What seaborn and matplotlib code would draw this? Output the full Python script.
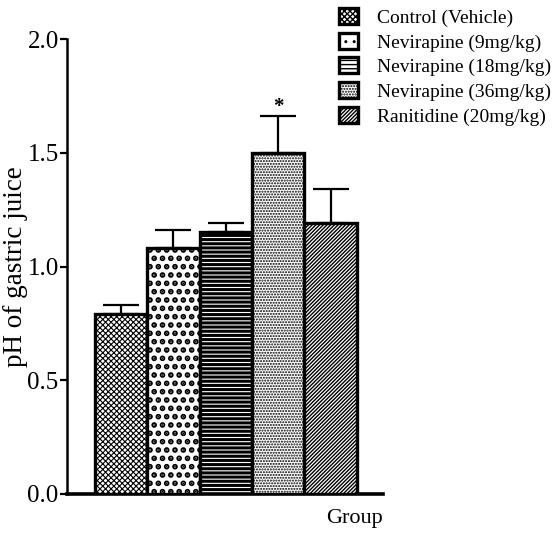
import matplotlib
matplotlib.use("Agg")
import matplotlib.pyplot as plt
import seaborn as sns
import pandas as pd
import numpy as np

# Gastric juice pH per treatment group (mean and SEM)
groups = ["Control (Vehicle)", "Nevirapine (9mg/kg)", "Nevirapine (18mg/kg)",
          "Nevirapine (36mg/kg)", "Ranitidine (20mg/kg)"]
ph_mean = [0.79, 1.08, 1.15, 1.50, 1.19]
ph_sem = [0.04, 0.08, 0.04, 0.16, 0.15]
significant = [False, False, False, True, False]
y_ticks = [0.0, 0.5, 1.0, 1.5, 2.0]

sns.set_theme(style="ticks")
plt.rcParams["font.family"] = ["Liberation Serif", "DejaVu Serif"]
plt.rcParams["hatch.linewidth"] = 1.0

df = pd.DataFrame({"group": groups, "ph": ph_mean})

fig = plt.figure(figsize=(5.55, 5.37), dpi=100)
ax = fig.add_axes([67 / 555, 43 / 537, 316 / 555, 455 / 537])

sns.barplot(data=df, x="group", y="ph", order=groups, width=1.0,
            color="white", edgecolor="black", linewidth=2.4,
            errorbar=None, ax=ax, zorder=3)

hatches = ["xxxxxx", "..", "----", "......", "/////////"]
hatch_lw = [0.8, 2.8, 2.2, 1.0, 1.0]
bars = list(ax.patches)[: len(groups)]
for bar, h, lw in zip(bars, hatches, hatch_lw):
    bar.set_hatch(h)
    bar.set_facecolor("white")
    bar.set_edgecolor("black")
    if hasattr(bar, "set_hatch_linewidth"):
        bar.set_hatch_linewidth(lw)

# upward-only SEM whiskers, drawn behind the bars
xc = [b.get_x() + b.get_width() / 2 for b in bars]
tops = [b.get_height() for b in bars]
ax.errorbar(xc, tops, yerr=[np.zeros(len(ph_sem)), ph_sem], fmt="none",
            ecolor="black", elinewidth=1.6, capsize=13, capthick=1.6, zorder=1)

for x, top, err, sig in zip(xc, tops, ph_sem, significant):
    if sig:
        ax.text(x, top + err - 0.005, "*", ha="center", va="bottom",
                fontsize=15, fontweight="bold", color="black")

ax.set_xlim(-1.03, 5.0)
ax.set_ylim(0, 2.0)
ax.set_yticks(y_ticks)
ax.set_yticklabels([f"{v:.1f}" for v in y_ticks], fontsize=18)
ax.set_xticks([])
ax.tick_params(axis="y", direction="out", length=5, width=1.6, pad=1, colors="black")

for side in ("top", "right"):
    ax.spines[side].set_visible(False)
ax.spines["left"].set_linewidth(1.8)
ax.spines["bottom"].set_linewidth(2.6)
ax.spines["left"].set_color("black")
ax.spines["bottom"].set_color("black")

ax.set_ylabel("pH of gastric juice", fontsize=19.5, color="black")
ax.yaxis.set_label_coords(-0.125, 0.5)
ax.set_xlabel("")
fig.text(383 / 555, 1 - 518 / 537, "Group", ha="right", va="center",
         fontsize=16, color="black")

leg = ax.legend(handles=bars, labels=groups, loc="upper left",
                bbox_to_anchor=(339 / 555, 1 - 8 / 537),
                bbox_transform=fig.transFigure, frameon=False,
                fontsize=14, handlelength=1.0, handleheight=0.9,
                handletextpad=0.95, labelspacing=0.3, borderpad=0,
                borderaxespad=0)
for t in leg.get_texts():
    t.set_color("black")

fig.savefig("out.png", dpi=100)
